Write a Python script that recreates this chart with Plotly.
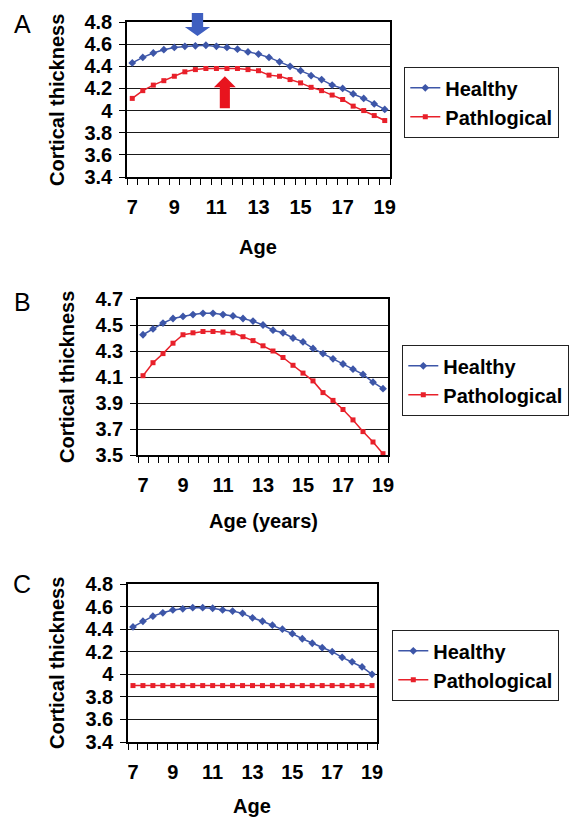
import plotly.graph_objects as go

# ---------------- data ----------------
ages = [7, 7.5, 8, 8.5, 9, 9.5, 10, 10.5, 11, 11.5, 12, 12.5, 13,
        13.5, 14, 14.5, 15, 15.5, 16, 16.5, 17, 17.5, 18, 18.5, 19]

healthy_a = [4.43, 4.48, 4.52, 4.55, 4.57, 4.58, 4.585, 4.59, 4.58, 4.57, 4.555, 4.53, 4.51,
             4.48, 4.44, 4.40, 4.36, 4.315, 4.28, 4.23, 4.20, 4.15, 4.11, 4.06, 4.01]
pathological_a = [4.11, 4.18, 4.23, 4.27, 4.31, 4.35, 4.37, 4.38, 4.38, 4.38, 4.38, 4.37, 4.36,
                  4.32, 4.31, 4.28, 4.25, 4.21, 4.18, 4.14, 4.10, 4.04, 4.00, 3.955, 3.91]

healthy_b = [4.425, 4.47, 4.515, 4.55, 4.566, 4.58, 4.59, 4.59, 4.58, 4.57, 4.55, 4.53, 4.50,
             4.46, 4.44, 4.40, 4.37, 4.32, 4.28, 4.24, 4.20, 4.16, 4.12, 4.06, 4.01]
pathological_b = [4.11, 4.21, 4.28, 4.36, 4.425, 4.44, 4.45, 4.45, 4.445, 4.44, 4.41, 4.38, 4.34,
                  4.30, 4.25, 4.19, 4.13, 4.07, 3.98, 3.92, 3.85, 3.77, 3.68, 3.60, 3.51]

healthy_c = [4.42, 4.47, 4.515, 4.545, 4.57, 4.58, 4.59, 4.59, 4.585, 4.57, 4.56, 4.54, 4.50,
             4.47, 4.435, 4.40, 4.36, 4.315, 4.275, 4.235, 4.20, 4.15, 4.11, 4.065, 4.00]
pathological_c = [3.9] * 25

x_tick_vals = [7, 9, 11, 13, 15, 17, 19]
x_tick_text = ["7", "9", "11", "13", "15", "17", "19"]
y_ticks_ac = [3.4, 3.6, 3.8, 4.0, 4.2, 4.4, 4.6, 4.8]
y_ticks_ac_text = ["3.4", "3.6", "3.8", "4", "4.2", "4.4", "4.6", "4.8"]
y_ticks_b = [3.5, 3.7, 3.9, 4.1, 4.3, 4.5, 4.7]
y_ticks_b_text = ["3.5", "3.7", "3.9", "4.1", "4.3", "4.5", "4.7"]

# ---------------- layout helpers ----------------
# the page body has an 8px default margin, so the figure is drawn 8px in
PAGE_OFF = 8
W, H = 579 - PAGE_OFF, 821 - PAGE_OFF
FONT = "Liberation Sans, Arial, sans-serif"
BLUE = "#3D56A8"
RED = "#E8202A"


def fx(p):
    return (p - PAGE_OFF) / W


def fy(p):
    return 1 - (p - PAGE_OFF) / H


fig = go.Figure()

panels = [
    (healthy_a, pathological_a, "x", "y", "legend", "Pathlogical"),
    (healthy_b, pathological_b, "x2", "y2", "legend2", "Pathological"),
    (healthy_c, pathological_c, "x3", "y3", "legend3", "Pathological"),
]

for hv, pv, xa, ya, lg, plabel in panels:
    fig.add_trace(go.Scatter(
        x=ages, y=hv, xaxis=xa, yaxis=ya, legend=lg, name="Healthy",
        mode="lines+markers",
        line=dict(color=BLUE, width=1.5),
        marker=dict(symbol="diamond", size=6, color=BLUE),
        cliponaxis=False,
    ))
    fig.add_trace(go.Scatter(
        x=ages, y=pv, xaxis=xa, yaxis=ya, legend=lg, name=plabel,
        mode="lines+markers",
        line=dict(color=RED, width=1.5),
        marker=dict(symbol="square", size=5, color=RED),
        cliponaxis=False,
    ))

tickfont = dict(family=FONT, size=20, color="black", weight="bold")


def xaxis_cfg(domain, anchor):
    return dict(
        domain=domain, anchor=anchor, range=[6.75, 19.25], automargin=False,
        tickmode="array", tickvals=x_tick_vals, ticktext=x_tick_text,
        ticks="", showgrid=False, zeroline=False,
        showline=True, linecolor="black", linewidth=1.5, mirror=True,
        minor=dict(ticks="outside", tick0=6.75, dtick=0.5, ticklen=6,
                   tickcolor="black", tickwidth=1.3, showgrid=False),
        tickfont=tickfont, ticklabelstandoff=11,
    )


def yaxis_cfg(domain, anchor, rng, tv, tt):
    return dict(
        domain=domain, anchor=anchor, range=rng, automargin=False,
        tickmode="array", tickvals=tv, ticktext=tt,
        ticks="outside", ticklen=6, tickcolor="black", tickwidth=1.3,
        showgrid=True, gridcolor="#1a1a1a", gridwidth=1.3, zeroline=False,
        showline=True, linecolor="black", linewidth=1.5, mirror=True,
        tickfont=tickfont, ticklabelstandoff=3,
    )


legend_common = dict(
    font=dict(family=FONT, size=20, color="black", weight="bold"),
    bordercolor="#222", borderwidth=1.3, bgcolor="white",
    xanchor="left", yanchor="top", itemwidth=30, tracegroupgap=0,
)

fig.update_layout(
    width=W, height=H, autosize=False,
    margin=dict(l=0, r=0, t=0, b=0),
    paper_bgcolor="white", plot_bgcolor="white",
    template="none",
    font=dict(family=FONT, color="black"),
    xaxis=xaxis_cfg([fx(127), fx(390)], "y"),
    yaxis=yaxis_cfg([fy(177), fy(22)], "x", [3.4, 4.8], y_ticks_ac, y_ticks_ac_text),
    xaxis2=xaxis_cfg([fx(138), fx(388)], "y2"),
    yaxis2=yaxis_cfg([fy(455), fy(299)], "x2", [3.5, 4.7], y_ticks_b, y_ticks_b_text),
    xaxis3=xaxis_cfg([fx(128), fx(377)], "y3"),
    yaxis3=yaxis_cfg([fy(742), fy(584)], "x3", [3.4, 4.8], y_ticks_ac, y_ticks_ac_text),
    legend=dict(x=fx(404), y=fy(67), **legend_common),
    legend2=dict(x=fx(402), y=fy(345), **legend_common),
    legend3=dict(x=fx(392), y=fy(630), **legend_common),
    showlegend=True,
)

# ---------------- annotations (titles, panel letters) ----------------
title_font = dict(family=FONT, size=20, color="black", weight="bold")
letter_font = dict(family=FONT, size=25, color="black")
annots = []
for cx, cy, txt in [(57, 100, "Cortical thickness"),
                    (67, 377, "Cortical thickness"),
                    (57, 663, "Cortical thickness")]:
    annots.append(dict(x=fx(cx), y=fy(cy), xref="paper", yref="paper",
                       text=txt, textangle=-90, showarrow=False,
                       font=title_font, xanchor="center", yanchor="middle"))
for cx, cy, txt in [(258, 247, "Age"), (263, 521, "Age (years)"), (252, 806, "Age")]:
    annots.append(dict(x=fx(cx), y=fy(cy), xref="paper", yref="paper",
                       text=txt, showarrow=False, font=title_font,
                       xanchor="center", yanchor="middle"))
for cx, cy, txt in [(22, 24, "A"), (22, 302, "B"), (22, 584, "C")]:
    annots.append(dict(x=fx(cx), y=fy(cy), xref="paper", yref="paper",
                       text=txt, showarrow=False, font=letter_font,
                       xanchor="center", yanchor="middle"))
fig.update_layout(annotations=annots)

# ---------------- block arrows in panel A ----------------
bx = 10.1
blue_path = (f"M {bx-0.27},{fy(13)} L {bx+0.27},{fy(13)} L {bx+0.27},{fy(27)} "
             f"L {bx+0.6},{fy(27)} L {bx},{fy(36)} L {bx-0.6},{fy(27)} "
             f"L {bx-0.27},{fy(27)} Z")
rx = 11.4
red_path = (f"M {rx-0.24},4.02 L {rx+0.24},4.02 L {rx+0.24},4.21 "
            f"L {rx+0.52},4.21 L {rx},4.31 L {rx-0.52},4.21 L {rx-0.24},4.21 Z")
fig.add_shape(type="path", path=blue_path, xref="x", yref="paper",
              fillcolor="#3F5FC0", line=dict(width=0), layer="above")
fig.add_shape(type="path", path=red_path, xref="x", yref="y",
              fillcolor="#E8141E", line=dict(width=0), layer="above")

fig.write_html("out.html")
